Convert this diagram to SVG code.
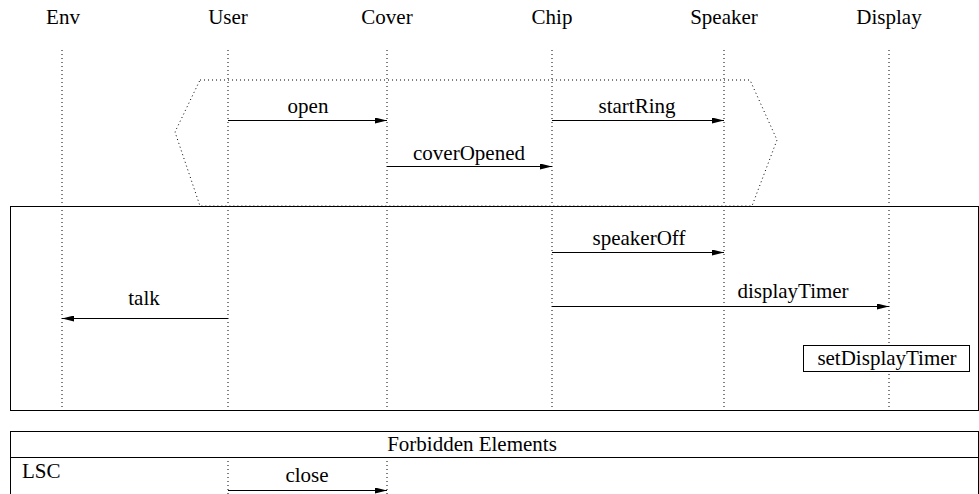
<svg xmlns="http://www.w3.org/2000/svg" width="979" height="494" viewBox="0 0 979 494">
<style>
.t{font-size:21px;fill:#000}
.c{text-anchor:middle}
.life{stroke:#000;stroke-width:1;stroke-dasharray:1 3;fill:none}
.msg{stroke:#000;stroke-width:1;fill:none}
.box{stroke:#000;stroke-width:1;fill:none}
</style>
<defs>
<marker id="ah" viewBox="0 0 12 6" refX="12" refY="3" markerWidth="12" markerHeight="6" markerUnits="userSpaceOnUse" orient="auto">
<path d="M0,0 L12,3 L0,6 Z" fill="#000"/>
</marker>
</defs>
<rect width="979" height="494" fill="#fff"/>
<g font-family="Liberation Serif, Times New Roman, serif">
<g id="Env"><text class="t c" x="63" y="24">Env</text><line class="life" x1="62" y1="50" x2="62" y2="410"/></g>
<g id="User"><text class="t c" x="228" y="24">User</text><line class="life" x1="228" y1="50" x2="228" y2="410"/><line class="life" x1="228" y1="457" x2="228" y2="494"/></g>
<g id="Cover"><text class="t c" x="387" y="24">Cover</text><line class="life" x1="387" y1="50" x2="387" y2="410"/><line class="life" x1="387" y1="457" x2="387" y2="494"/></g>
<g id="Chip"><text class="t c" x="552" y="24">Chip</text><line class="life" x1="552" y1="50" x2="552" y2="410"/></g>
<g id="Speaker"><text class="t c" x="724" y="24">Speaker</text><line class="life" x1="724" y1="50" x2="724" y2="410"/></g>
<g id="Display"><text class="t c" x="889" y="24">Display</text><line class="life" x1="889" y1="50" x2="889" y2="410"/></g>
<g id="prechart"><polygon class="life" points="200,80 750,80 777,140 752,206 200,206 175,132"/></g>
<g id="mainchart"><rect class="box" x="10.5" y="206.5" width="968" height="204"/></g>
<g id="setDisplayTimer"><rect x="803.5" y="345.5" width="166" height="26" fill="#fff" stroke="#000"/><text class="t c" x="887" y="365">setDisplayTimer</text></g>
<g id="forbidden"><rect class="box" x="10.5" y="431.5" width="968" height="70"/><line class="box" x1="10" y1="457.5" x2="979" y2="457.5"/><text class="t c" x="472" y="451">Forbidden Elements</text><text class="t" x="22" y="478">LSC</text></g>
<g id="connectors">
<line class="msg" x1="228" y1="120.5" x2="387" y2="120.5" marker-end="url(#ah)"/>
<text class="t c" x="308" y="113">open</text>
<line class="msg" x1="552" y1="120.5" x2="724" y2="120.5" marker-end="url(#ah)"/>
<text class="t c" x="637" y="113">startRing</text>
<line class="msg" x1="387" y1="166.5" x2="552" y2="166.5" marker-end="url(#ah)"/>
<text class="t c" x="469" y="160">coverOpened</text>
<line class="msg" x1="552" y1="252.5" x2="724" y2="252.5" marker-end="url(#ah)"/>
<text class="t c" x="639" y="245">speakerOff</text>
<line class="msg" x1="552" y1="306.5" x2="889" y2="306.5" marker-end="url(#ah)"/>
<text class="t c" x="793" y="298">displayTimer</text>
<line class="msg" x1="228" y1="318.5" x2="62" y2="318.5" marker-end="url(#ah)"/>
<text class="t c" x="144" y="305">talk</text>
<line class="msg" x1="228" y1="490.5" x2="387" y2="490.5" marker-end="url(#ah)"/>
<text class="t c" x="307" y="482">close</text>
</g>
</g>
</svg>
